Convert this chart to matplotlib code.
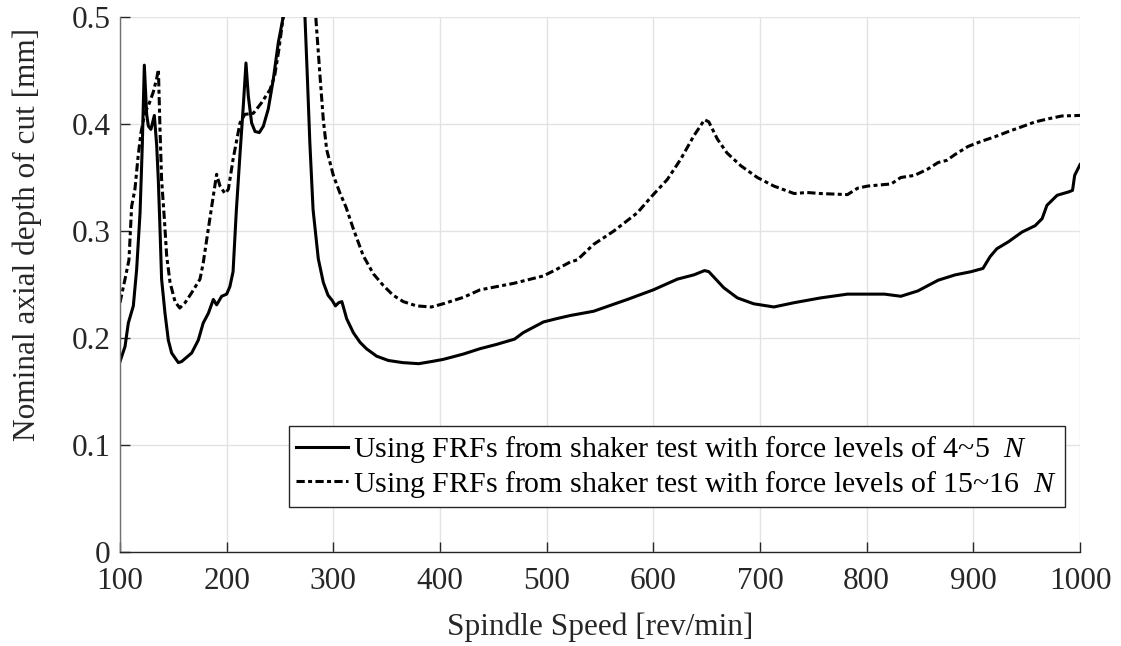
import matplotlib
matplotlib.use("Agg")
import matplotlib.pyplot as plt

plt.rcParams['font.family'] = ['Liberation Serif', 'DejaVu Serif']
plt.rcParams['mathtext.fontset'] = 'custom'
plt.rcParams['mathtext.rm'] = 'Liberation Serif'
plt.rcParams['mathtext.it'] = 'Liberation Serif:italic'

# ---- data ----
speed_low = [100, 104.7, 107.8, 112.5, 115.6, 118.8, 120.9, 122.8, 125, 126.6, 129, 132.2,
             134.4, 135.9, 137.5, 139, 142.2, 145.3, 148.4, 154.7, 157.8, 167.2, 173.4, 178,
             182.8, 187.5, 190.6, 195.3, 200, 203, 206, 209, 212.5, 215.6, 218.1, 220.3,
             223.4, 226.6, 230.6, 234.4, 239, 243.75, 248.4, 253, 258, 263, 268, 273.4,
             275.6, 278, 281, 285.9, 290.6, 295, 299, 302, 305, 308, 312.5, 318.75, 325,
             331, 340.6, 351.6, 365, 380, 392, 403, 421.9, 437.5, 453, 470, 478, 487.5,
             497, 509, 522, 544, 575.6, 600, 622.5, 638, 648, 652, 666, 678.75, 694, 713,
             732, 757, 782, 816.7, 832, 848, 867, 883, 898, 909, 915.7, 922, 933, 945.6,
             958, 964.5, 969, 978.6, 989.6, 993, 995, 1000]
depth_low = [0.178, 0.192, 0.214, 0.230, 0.264, 0.317, 0.380, 0.455, 0.409, 0.398, 0.395, 0.408,
             0.380, 0.348, 0.302, 0.255, 0.223, 0.198, 0.186, 0.177, 0.178, 0.186, 0.198, 0.214,
             0.223, 0.236, 0.231, 0.239, 0.241, 0.248, 0.262, 0.318, 0.372, 0.417, 0.457, 0.426,
             0.401, 0.393, 0.392, 0.398, 0.414, 0.442, 0.476, 0.500, 0.600, 0.750, 0.620, 0.500,
             0.445, 0.382, 0.320, 0.274, 0.252, 0.240, 0.235, 0.230, 0.233, 0.234, 0.218, 0.205, 0.196,
             0.190, 0.183, 0.179, 0.177, 0.176, 0.178, 0.180, 0.185, 0.190, 0.194, 0.199, 0.205, 0.210,
             0.215, 0.218, 0.221, 0.225, 0.236, 0.245, 0.255, 0.259, 0.263, 0.262, 0.247, 0.2375, 0.232, 0.229,
             0.233, 0.2375, 0.241, 0.241, 0.239, 0.244, 0.254, 0.259, 0.262, 0.265, 0.276, 0.2834, 0.290, 0.299,
             0.305, 0.3116, 0.324, 0.3334, 0.3366, 0.338, 0.352, 0.362]

speed_high = [100, 104.7, 108.4, 110.9, 114, 117, 119.7, 123.4, 126.6, 131.25, 134.5, 136,
              137.5, 139, 141.6, 143.75, 146.9, 151.6, 156, 161, 167, 175, 178, 182.8, 187.5,
              190.6, 193.75, 198.4, 201.6, 206, 212.5, 217, 225, 232.8, 240.6, 245, 249, 253,
              258, 265, 272, 278, 283.75, 287.5, 290.6, 293.75, 300, 306, 312, 318.75, 328,
              337.5, 346.9, 356, 365.6, 378, 392, 403, 421.9, 437.5, 453, 468.75, 496.9, 509,
              522, 528.75, 544, 563, 585, 599, 613, 625.6, 638, 648, 652, 660, 669, 682, 697.5,
              713, 732, 744, 757, 782, 791.5, 801, 823, 832, 845, 857.5, 867, 875, 883, 895,
              908, 920, 933, 945.6, 958, 971, 983, 1000]
depth_high = [0.233, 0.255, 0.273, 0.323, 0.339, 0.370, 0.392, 0.411, 0.417, 0.430, 0.443, 0.451,
              0.395, 0.348, 0.311, 0.277, 0.252, 0.234, 0.228, 0.233, 0.242, 0.255, 0.270, 0.302, 0.333,
              0.353, 0.342, 0.335, 0.339, 0.367, 0.401, 0.409, 0.410, 0.420, 0.432, 0.445, 0.470, 0.500,
              0.600, 0.850, 0.800, 0.620, 0.497, 0.445, 0.404, 0.376, 0.352, 0.336, 0.322, 0.302, 0.277,
              0.260, 0.249, 0.240, 0.234, 0.230, 0.229, 0.232, 0.238, 0.245, 0.248, 0.251, 0.258, 0.264,
              0.271, 0.273, 0.2875, 0.300, 0.317, 0.333, 0.348, 0.367, 0.389, 0.404, 0.402, 0.386, 0.373, 0.361, 0.350,
              0.342, 0.335, 0.336, 0.335, 0.334, 0.340, 0.342, 0.344, 0.350, 0.352, 0.358, 0.364, 0.366, 0.3716, 0.379,
              0.384, 0.388, 0.393, 0.3975, 0.402, 0.405, 0.4075, 0.408]

label_low = "Using FRFs from shaker test with force levels of 4~5  $\\mathit{N}$"
label_high = "Using FRFs from shaker test with force levels of 15~16  $\\mathit{N}$"
x_ticks = [100, 200, 300, 400, 500, 600, 700, 800, 900, 1000]
y_ticks = [0, 0.1, 0.2, 0.3, 0.4, 0.5]
y_tick_labels = ['0', '0.1', '0.2', '0.3', '0.4', '0.5']

# ---- figure ----
W, H = 1121, 646
fig = plt.figure(figsize=(W / 100, H / 100), dpi=100)
ax = fig.add_axes([120 / W, 1 - 552 / H, 960 / W, 535 / H])

ax.plot(speed_low, depth_low, color='black', lw=2.2, label=label_low)
ax.plot(speed_high, depth_high, color='black', lw=2.2, dashes=[2.7, 1.1, 1.3, 1.1], label=label_high)

ax.set_xlim(100, 1000)
ax.set_ylim(0, 0.5)
ax.set_xticks(x_ticks)
ax.set_yticks(y_ticks)
ax.set_yticklabels(y_tick_labels)

ax.grid(True, color='#e3e3e3', lw=1.0)
ax.set_axisbelow(True)
for s in ['top', 'right']:
    ax.spines[s].set_visible(False)
ax.spines['left'].set_color('#707070')
ax.spines['bottom'].set_color('#262626')
ax.spines['left'].set_linewidth(1.0)
ax.spines['bottom'].set_linewidth(1.0)

ax.tick_params(axis='both', direction='in', length=7, width=1.0, colors='#262626',
               labelsize=22.5)
ax.tick_params(axis='x', pad=11)
ax.tick_params(axis='y', pad=7)

ax.set_xlabel('Spindle Speed [rev/min]', fontsize=22.5, color='#262626', labelpad=12)
ax.set_ylabel('Nominal axial depth of cut [mm]', fontsize=22.5, color='#262626')
ax.yaxis.label.set_va('center')
ax.yaxis.set_label_coords(-0.097, 0.594)

leg = ax.legend(loc='lower right', bbox_to_anchor=((1065 - 120) / 960, (552 - 507) / 535),
                borderaxespad=0, fontsize=21.5, handlelength=1.75, handletextpad=0.17,
                borderpad=0.25, labelspacing=0.12, fancybox=False, framealpha=1,
                edgecolor='#262626')
leg.get_frame().set_linewidth(1.0)

fig.savefig('out.png', dpi=100)
